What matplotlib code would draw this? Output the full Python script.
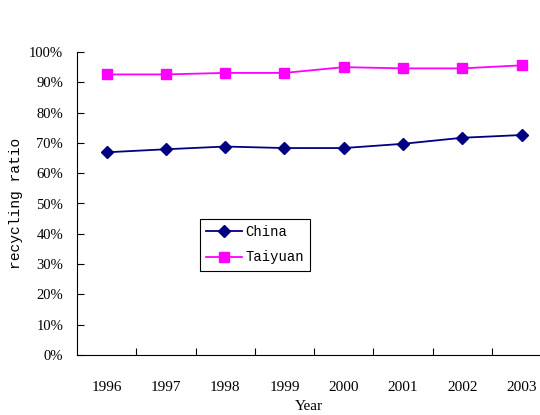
import matplotlib
matplotlib.use("Agg")
import matplotlib.pyplot as plt
from matplotlib.ticker import FuncFormatter

# data
years = ["1996", "1997", "1998", "1999", "2000", "2001", "2002", "2003"]
china = [66.9, 67.9, 68.8, 68.3, 68.3, 69.7, 71.7, 72.6]
taiyuan = [92.6, 92.6, 93.1, 93.1, 95.0, 94.6, 94.6, 95.6]

plt.rcParams['font.family'] = ['Liberation Serif', 'DejaVu Serif']
mono = ['Liberation Mono', 'DejaVu Sans Mono']

fig = plt.figure(figsize=(5.4, 4.15), dpi=100)
ax = fig.add_axes([77 / 540, 60 / 415, 463 / 540, 303 / 415])

x = list(range(len(years)))
ax.plot(x, china, color='#000080', marker='D', markersize=6, linewidth=1.3, label='China')
ax.plot(x, taiyuan, color='#FF00FF', marker='s', markersize=7, linewidth=1.3, label='Taiyuan')

ax.set_ylim(0, 100)
ax.set_xlim(-0.5, 7.31)
ax.set_yticks(range(0, 101, 10))
ax.yaxis.set_major_formatter(FuncFormatter(lambda v, p: "%d%%" % v))
ax.tick_params(axis='y', direction='in', length=5, labelsize=10.5, pad=10)

# category labels between boundary ticks
ax.set_xticks([i + 0.5 for i in range(len(years) - 1)])
ax.set_xticklabels([])
ax.tick_params(axis='x', which='major', direction='in', length=5)
ax.set_xticks(x, minor=True)
ax.set_xticklabels(years, minor=True)
ax.tick_params(axis='x', which='minor', length=0, labelsize=11, pad=19)

for side in ['top', 'right']:
    ax.spines[side].set_visible(False)

ax.set_ylabel('recycling ratio', fontsize=10.5, family=mono, labelpad=4)
ax.set_xlabel('Year', fontsize=11, labelpad=4)

leg = ax.legend(loc='upper left', bbox_to_anchor=(200 / 540, 1 - 219 / 415), bbox_transform=fig.transFigure,
                frameon=True, fancybox=False, edgecolor='black', framealpha=1,
                prop={'family': mono, 'size': 10}, borderaxespad=0,
                handlelength=2.6, borderpad=0.45, labelspacing=0.8, handletextpad=0.2)
leg.get_frame().set_linewidth(0.8)

fig.savefig('out.png', dpi=100)
